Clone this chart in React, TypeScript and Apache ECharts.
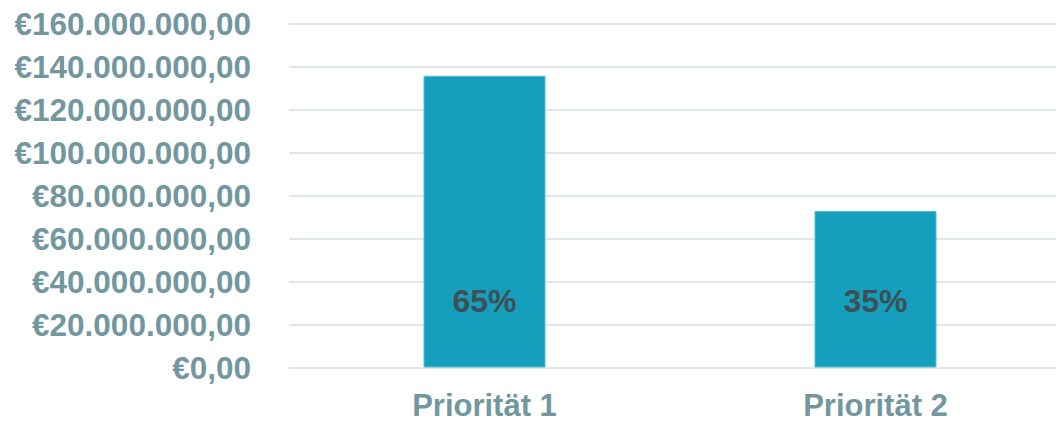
import React, { useEffect, useRef } from "react";
import * as echarts from "echarts";

const categories = ["Priorität 1", "Priorität 2"];
const values = [135900000, 72900000];
const shareLabels = ["65%", "35%"];

function formatEuro(v: number): string {
  const fixed = v.toFixed(2);
  const [intPart, dec] = fixed.split(".");
  const withDots = intPart.replace(/\B(?=(\d{3})+(?!\d))/g, ".");
  return "€" + withDots + "," + dec;
}

export default function App() {
  const ref = useRef<HTMLDivElement>(null);
  useEffect(() => {
    if (!ref.current) return;
    const chart = echarts.init(ref.current, undefined, { renderer: "svg" });
    chart.setOption({
      animation: false,
      grid: { left: 289, right: 0, top: 24, bottom: 51 },
      xAxis: {
        type: "category",
        data: categories,
        axisLine: { show: false },
        axisTick: { show: false },
        axisLabel: {
          margin: 25,
          lineHeight: 26,
          color: "#72979e",
          fontSize: 31,
          fontWeight: "bold",
          fontFamily: "Liberation Sans, Arial, sans-serif",
        },
      },
      yAxis: {
        type: "value",
        min: 0,
        max: 160000000,
        interval: 20000000,
        axisLine: { show: false },
        axisTick: { show: false },
        splitLine: { lineStyle: { color: "#e1e7e9", width: 2 } },
        axisLabel: {
          margin: 38,
          color: "#72979e",
          fontSize: 31.5,
          fontWeight: "bold",
          fontFamily: "Liberation Sans, Arial, sans-serif",
          formatter: (v: number) => formatEuro(v),
        },
      },
      series: [
        {
          type: "bar",
          data: values,
          barWidth: 122,
          itemStyle: { color: "#169fbc", borderColor: "#4fbfd6", borderWidth: 1 },
          label: {
            show: true,
            position: "insideBottom",
            distance: 51,
            color: "#3e4f55",
            fontSize: 32,
            fontWeight: "bold",
            fontFamily: "Liberation Sans, Arial, sans-serif",
            formatter: (p: any) => shareLabels[p.dataIndex],
          },
        },
      ],
    });
    return () => chart.dispose();
  }, []);
  return (
    <div
      style={{ position: "absolute", left: 0, top: 0, width: 1056, height: 421, overflow: "hidden", background: "#fff" }}
    >
      <div ref={ref} style={{ width: 1071, height: 421 }} />
    </div>
  );
}
